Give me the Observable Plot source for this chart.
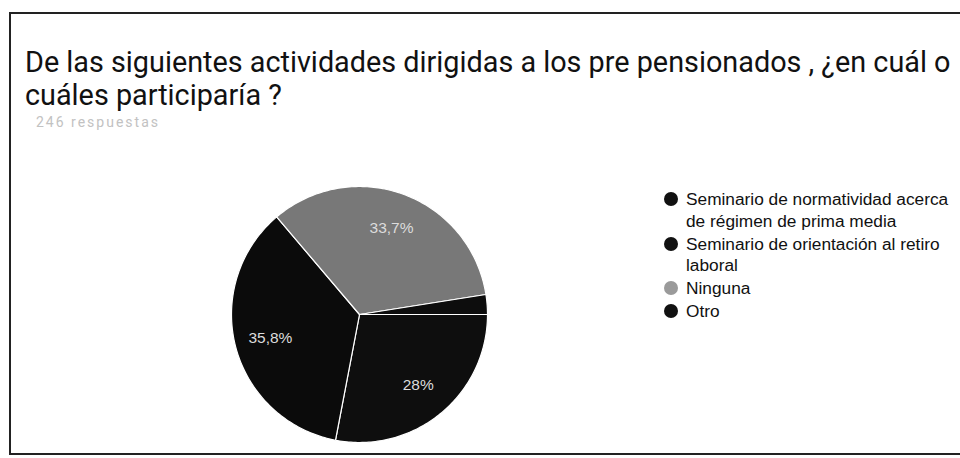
<!DOCTYPE html>
<html>
<head>
<meta charset="utf-8">
<script src="https://cdn.jsdelivr.net/npm/d3@7"></script>
<script src="https://cdn.jsdelivr.net/npm/@observablehq/plot@0.6"></script>
<style>
  html, body { margin: 0; padding: 0; background: #fff; width: 960px; height: 458px; overflow: hidden; }
  #frame { position: absolute; left: 9px; top: 12px; width: 1000px; height: 439px; border-top: 2px solid #222; border-left: 2px solid #222; border-bottom: 2px solid #222; }
  #title { position: absolute; left: 25px; top: 46px; font-family: Roboto, sans-serif; font-size: 28.8px; line-height: 33px; color: #111; white-space: nowrap; }
  #sub { position: absolute; left: 36px; top: 114px; font-family: Roboto, sans-serif; font-size: 14px; letter-spacing: 2px; color: #c2c2c2; }
  #chart { position: absolute; left: 0; top: 0; }
  #legend { position: absolute; left: 664px; top: 189px; font-family: "Liberation Sans", Arial, sans-serif; font-size: 17.3px; color: #111; }
  .item { position: relative; padding-left: 22px; line-height: 21.5px; margin-bottom: 1.5px; white-space: nowrap; }
  .dot { position: absolute; left: 0; top: 3px; width: 14px; height: 14px; border-radius: 50%; }
</style>
</head>
<body>
<div id="frame"></div>
<div id="title"></div>
<div id="sub"></div>
<div id="chart"></div>
<div id="legend"></div>
<script>
const titleLines = ["De las siguientes actividades dirigidas a los pre pensionados , ¿en cuál o", "cuáles participaría ?"];
const subtitle = "246 respuestas";
const categories = ["Seminario de normatividad acerca de régimen de prima media", "Seminario de orientación al retiro laboral", "Ninguna", "Otro"];
const legendLines = [["Seminario de normatividad acerca", "de régimen de prima media"], ["Seminario de orientación al retiro", "laboral"], ["Ninguna"], ["Otro"]];
const percents = [28, 35.8, 33.7, 2.5];
const labels = ["28%", "35,8%", "33,7%", ""];
const sliceColors = ["#0e0e0e", "#0b0b0b", "#787878", "#0d0d0d"];
const legendColors = ["#111", "#111", "#9a9a9a", "#111"];
const startAngle = 90; // degrees clockwise from 12 o'clock

document.getElementById("title").innerHTML = titleLines.join("<br>");
document.getElementById("sub").textContent = subtitle;

// slice geometry derived from data
const total = d3.sum(percents);
const poly = [];
const labelPts = [];
let acc = startAngle;
percents.forEach((p, i) => {
  const a0 = acc, a1 = acc + p / total * 360;
  acc = a1;
  poly.push({name: categories[i], x: 0, y: 0});
  const n = Math.max(2, Math.ceil(a1 - a0));
  for (let k = 0; k <= n; k++) {
    const t = (a0 + (a1 - a0) * k / n) * Math.PI / 180;
    poly.push({name: categories[i], x: Math.sin(t), y: Math.cos(t)});
  }
  poly.push({name: categories[i], x: 0, y: 0});
  const m = (a0 + a1) / 2 * Math.PI / 180;
  labelPts.push({label: labels[i], x: 0.72 * Math.sin(m), y: 0.72 * Math.cos(m)});
});

const cx = 359, cy = 314, R = 128;
const plot = Plot.plot({
  width: 960, height: 458,
  margin: 0,
  x: {domain: [-1, 1], range: [cx - R, cx + R], axis: null},
  y: {domain: [-1, 1], range: [cy + R, cy - R], axis: null},
  color: {domain: categories, range: sliceColors},
  style: {background: "transparent", overflow: "visible"},
  marks: [
    Plot.line(poly, {x: "x", y: "y", z: "name", fill: "name", stroke: "#fff", strokeWidth: 1.2, curve: "linear"}),
    Plot.text(labelPts, {x: "x", y: "y", text: "label", fill: "#dcdcdc", fontSize: 15.5, fontFamily: "Liberation Sans, Arial, sans-serif"})
  ]
});
document.getElementById("chart").appendChild(plot);

const leg = document.getElementById("legend");
legendLines.forEach((lines, i) => {
  const d = document.createElement("div");
  d.className = "item";
  d.innerHTML = `<span class="dot" style="background:${legendColors[i]}"></span>` + lines.join("<br>");
  leg.appendChild(d);
});
</script>
</body>
</html>
